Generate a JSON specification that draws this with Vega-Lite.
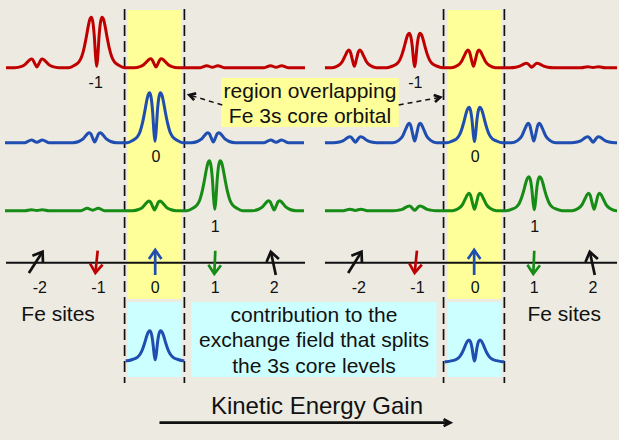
{
"$schema": "https://vega.github.io/schema/vega-lite/v6.json",
"width": 619, "height": 440, "padding": 0,
"autosize": {"type": "fit", "contains": "padding"},
"background": "#ECEAE1",
"config": {"view": {"stroke": null}},
"datasets": {
"bands": [
{"kind":"yellow","x":128,"x2":182,"y":10,"y2":299},
{"kind":"yellow","x":449,"x2":503,"y":10,"y2":299},
{"kind":"cyan","x":128,"x2":182,"y":302,"y2":377},
{"kind":"cyan","x":192,"x2":438,"y":302,"y2":377},
{"kind":"cyan","x":449,"x2":503,"y":302,"y2":377},
{"kind":"yellow","x":222,"x2":400,"y":78,"y2":127}
],
"dashes": [
{"x":125,"y":9,"y2":383},{"x":185,"y":9,"y2":383},{"x":445,"y":9,"y2":383},{"x":506,"y":9,"y2":383}
],
"axes": [
{"x":6,"x2":306,"y":262.7},{"x":326,"x2":619,"y":262.7}
],
"curves": [
{"site":"-1","p":"L","x":6,"y":67.7},
{"site":"-1","p":"L","x":15,"y":67.7},{"site":"-1","p":"L","x":21,"y":66.7},{"site":"-1","p":"L","x":25,"y":64.7},{"site":"-1","p":"L","x":28,"y":61.6},{"site":"-1","p":"L","x":30,"y":59.7},{"site":"-1","p":"L","x":31.5,"y":59.0},{"site":"-1","p":"L","x":33,"y":59.9},{"site":"-1","p":"L","x":35,"y":63.8},{"site":"-1","p":"L","x":37,"y":67.0},{"site":"-1","p":"L","x":39,"y":63.8},{"site":"-1","p":"L","x":41,"y":59.9},{"site":"-1","p":"L","x":42.5,"y":59.0},{"site":"-1","p":"L","x":44,"y":59.7},{"site":"-1","p":"L","x":46,"y":61.6},{"site":"-1","p":"L","x":49,"y":64.7},{"site":"-1","p":"L","x":53,"y":66.7},{"site":"-1","p":"L","x":59,"y":67.7},
{"site":"-1","p":"L","x":69,"y":67.7},{"site":"-1","p":"L","x":75,"y":65.2},{"site":"-1","p":"L","x":79,"y":62.2},{"site":"-1","p":"L","x":82,"y":56.6},{"site":"-1","p":"L","x":84.5,"y":47.5},{"site":"-1","p":"L","x":86.5,"y":37.5},{"site":"-1","p":"L","x":88.5,"y":26.4},{"site":"-1","p":"L","x":90,"y":19.8},{"site":"-1","p":"L","x":91.5,"y":17.3},{"site":"-1","p":"L","x":93,"y":21.3},{"site":"-1","p":"L","x":94.5,"y":34.9},{"site":"-1","p":"L","x":96,"y":57.6},{"site":"-1","p":"L","x":97,"y":66.2},{"site":"-1","p":"L","x":98,"y":57.6},{"site":"-1","p":"L","x":99.5,"y":34.9},{"site":"-1","p":"L","x":101,"y":21.3},{"site":"-1","p":"L","x":102.5,"y":17.3},{"site":"-1","p":"L","x":104,"y":19.8},{"site":"-1","p":"L","x":105.5,"y":26.4},{"site":"-1","p":"L","x":107.5,"y":37.5},{"site":"-1","p":"L","x":109.5,"y":47.5},{"site":"-1","p":"L","x":112,"y":56.6},{"site":"-1","p":"L","x":115,"y":62.2},{"site":"-1","p":"L","x":119,"y":65.2},{"site":"-1","p":"L","x":125,"y":67.7},
{"site":"-1","p":"L","x":134.5,"y":67.7},{"site":"-1","p":"L","x":140.5,"y":66.6},{"site":"-1","p":"L","x":144.5,"y":64.5},{"site":"-1","p":"L","x":147.5,"y":61.4},{"site":"-1","p":"L","x":149.5,"y":59.4},{"site":"-1","p":"L","x":151,"y":58.7},{"site":"-1","p":"L","x":152.5,"y":59.6},{"site":"-1","p":"L","x":154.5,"y":63.6},{"site":"-1","p":"L","x":156.5,"y":67.0},{"site":"-1","p":"L","x":158.5,"y":63.6},{"site":"-1","p":"L","x":160.5,"y":59.6},{"site":"-1","p":"L","x":162,"y":58.7},{"site":"-1","p":"L","x":163.5,"y":59.4},{"site":"-1","p":"L","x":165.5,"y":61.4},{"site":"-1","p":"L","x":168.5,"y":64.5},{"site":"-1","p":"L","x":172.5,"y":66.6},{"site":"-1","p":"L","x":178.5,"y":67.7},
{"site":"-1","p":"L","x":201,"y":67.7},{"site":"-1","p":"L","x":207.5,"y":65.7},{"site":"-1","p":"L","x":213,"y":67.3},{"site":"-1","p":"L","x":218.5,"y":65.7},{"site":"-1","p":"L","x":225,"y":67.7},
{"site":"-1","p":"L","x":265,"y":67.7},{"site":"-1","p":"L","x":271.5,"y":65.7},{"site":"-1","p":"L","x":277,"y":67.3},{"site":"-1","p":"L","x":282.5,"y":65.7},{"site":"-1","p":"L","x":289,"y":67.7},{"site":"-1","p":"L","x":306,"y":67.7},

{"site":"0","p":"L","x":5,"y":142.7},{"site":"0","p":"L","x":25,"y":142.7},{"site":"0","p":"L","x":31.5,"y":140.0},{"site":"0","p":"L","x":37,"y":142.2},{"site":"0","p":"L","x":42.5,"y":140.0},{"site":"0","p":"L","x":49,"y":142.7},
{"site":"0","p":"L","x":73,"y":142.7},{"site":"0","p":"L","x":79,"y":141.5},{"site":"0","p":"L","x":83,"y":139.2},{"site":"0","p":"L","x":86,"y":135.7},{"site":"0","p":"L","x":88,"y":133.5},{"site":"0","p":"L","x":89.5,"y":132.7},{"site":"0","p":"L","x":91,"y":133.7},{"site":"0","p":"L","x":93,"y":138.2},{"site":"0","p":"L","x":95,"y":141.9},{"site":"0","p":"L","x":97,"y":138.2},{"site":"0","p":"L","x":99,"y":133.7},{"site":"0","p":"L","x":100.5,"y":132.7},{"site":"0","p":"L","x":102,"y":133.5},{"site":"0","p":"L","x":104,"y":135.7},{"site":"0","p":"L","x":107,"y":139.2},{"site":"0","p":"L","x":111,"y":141.5},{"site":"0","p":"L","x":117,"y":142.7},
{"site":"0","p":"L","x":127.5,"y":142.7},{"site":"0","p":"L","x":133.5,"y":140.2},{"site":"0","p":"L","x":137.5,"y":137.2},{"site":"0","p":"L","x":140.5,"y":131.7},{"site":"0","p":"L","x":143,"y":122.7},{"site":"0","p":"L","x":145,"y":112.7},{"site":"0","p":"L","x":147,"y":101.7},{"site":"0","p":"L","x":148.5,"y":95.2},{"site":"0","p":"L","x":150,"y":92.7},{"site":"0","p":"L","x":151.5,"y":96.7},{"site":"0","p":"L","x":153,"y":110.2},{"site":"0","p":"L","x":154.5,"y":132.7},{"site":"0","p":"L","x":155.5,"y":141.2},{"site":"0","p":"L","x":156.5,"y":132.7},{"site":"0","p":"L","x":158,"y":110.2},{"site":"0","p":"L","x":159.5,"y":96.7},{"site":"0","p":"L","x":161,"y":92.7},{"site":"0","p":"L","x":162.5,"y":95.2},{"site":"0","p":"L","x":164,"y":101.7},{"site":"0","p":"L","x":166,"y":112.7},{"site":"0","p":"L","x":168,"y":122.7},{"site":"0","p":"L","x":170.5,"y":131.7},{"site":"0","p":"L","x":173.5,"y":137.2},{"site":"0","p":"L","x":177.5,"y":140.2},{"site":"0","p":"L","x":183.5,"y":142.7},
{"site":"0","p":"L","x":192,"y":142.7},{"site":"0","p":"L","x":198,"y":141.5},{"site":"0","p":"L","x":202,"y":139.2},{"site":"0","p":"L","x":205,"y":135.7},{"site":"0","p":"L","x":207,"y":133.5},{"site":"0","p":"L","x":208.5,"y":132.7},{"site":"0","p":"L","x":210,"y":133.7},{"site":"0","p":"L","x":212,"y":138.2},{"site":"0","p":"L","x":214,"y":141.9},{"site":"0","p":"L","x":216,"y":138.2},{"site":"0","p":"L","x":218,"y":133.7},{"site":"0","p":"L","x":219.5,"y":132.7},{"site":"0","p":"L","x":221,"y":133.5},{"site":"0","p":"L","x":223,"y":135.7},{"site":"0","p":"L","x":226,"y":139.2},{"site":"0","p":"L","x":230,"y":141.5},{"site":"0","p":"L","x":236,"y":142.7},
{"site":"0","p":"L","x":265,"y":142.7},{"site":"0","p":"L","x":271.5,"y":140.0},{"site":"0","p":"L","x":277,"y":142.2},{"site":"0","p":"L","x":282.5,"y":140.0},{"site":"0","p":"L","x":289,"y":142.7},{"site":"0","p":"L","x":305,"y":142.7},

{"site":"1","p":"L","x":5,"y":210.7},{"site":"1","p":"L","x":25,"y":210.7},{"site":"1","p":"L","x":31.5,"y":209.7},{"site":"1","p":"L","x":37,"y":210.5},{"site":"1","p":"L","x":42.5,"y":209.7},{"site":"1","p":"L","x":49,"y":210.7},
{"site":"1","p":"L","x":81,"y":210.7},{"site":"1","p":"L","x":87.5,"y":208.3},{"site":"1","p":"L","x":93,"y":210.2},{"site":"1","p":"L","x":98.5,"y":208.3},{"site":"1","p":"L","x":105,"y":210.7},
{"site":"1","p":"L","x":133,"y":210.7},{"site":"1","p":"L","x":139,"y":209.5},{"site":"1","p":"L","x":143,"y":207.3},{"site":"1","p":"L","x":146,"y":203.9},{"site":"1","p":"L","x":148,"y":201.8},{"site":"1","p":"L","x":149.5,"y":201.0},{"site":"1","p":"L","x":151,"y":202.0},{"site":"1","p":"L","x":153,"y":206.3},{"site":"1","p":"L","x":155,"y":209.9},{"site":"1","p":"L","x":157,"y":206.3},{"site":"1","p":"L","x":159,"y":202.0},{"site":"1","p":"L","x":160.5,"y":201.0},{"site":"1","p":"L","x":162,"y":201.8},{"site":"1","p":"L","x":164,"y":203.9},{"site":"1","p":"L","x":167,"y":207.3},{"site":"1","p":"L","x":171,"y":209.5},{"site":"1","p":"L","x":177,"y":210.7},
{"site":"1","p":"L","x":187.5,"y":210.7},{"site":"1","p":"L","x":193.5,"y":208.2},{"site":"1","p":"L","x":197.5,"y":205.2},{"site":"1","p":"L","x":200.5,"y":199.7},{"site":"1","p":"L","x":203,"y":190.7},{"site":"1","p":"L","x":205,"y":180.7},{"site":"1","p":"L","x":207,"y":169.7},{"site":"1","p":"L","x":208.5,"y":163.2},{"site":"1","p":"L","x":210,"y":160.7},{"site":"1","p":"L","x":211.5,"y":164.7},{"site":"1","p":"L","x":213,"y":178.2},{"site":"1","p":"L","x":214.5,"y":200.7},{"site":"1","p":"L","x":215.5,"y":209.2},{"site":"1","p":"L","x":216.5,"y":200.7},{"site":"1","p":"L","x":218,"y":178.2},{"site":"1","p":"L","x":219.5,"y":164.7},{"site":"1","p":"L","x":221,"y":160.7},{"site":"1","p":"L","x":222.5,"y":163.2},{"site":"1","p":"L","x":224,"y":169.7},{"site":"1","p":"L","x":226,"y":180.7},{"site":"1","p":"L","x":228,"y":190.7},{"site":"1","p":"L","x":230.5,"y":199.7},{"site":"1","p":"L","x":233.5,"y":205.2},{"site":"1","p":"L","x":237.5,"y":208.2},{"site":"1","p":"L","x":243.5,"y":210.7},
{"site":"1","p":"L","x":253,"y":210.7},{"site":"1","p":"L","x":259,"y":209.5},{"site":"1","p":"L","x":263,"y":207.2},{"site":"1","p":"L","x":266,"y":203.7},{"site":"1","p":"L","x":268,"y":201.5},{"site":"1","p":"L","x":269.5,"y":200.7},{"site":"1","p":"L","x":271,"y":201.7},{"site":"1","p":"L","x":273,"y":206.2},{"site":"1","p":"L","x":275,"y":209.9},{"site":"1","p":"L","x":277,"y":206.2},{"site":"1","p":"L","x":279,"y":201.7},{"site":"1","p":"L","x":280.5,"y":200.7},{"site":"1","p":"L","x":282,"y":201.5},{"site":"1","p":"L","x":284,"y":203.7},{"site":"1","p":"L","x":287,"y":207.2},{"site":"1","p":"L","x":291,"y":209.5},{"site":"1","p":"L","x":297,"y":210.7},{"site":"1","p":"L","x":305,"y":210.7},

{"site":"-1","p":"R","x":326,"y":67.7},
{"site":"-1","p":"R","x":333.5,"y":67.7},{"site":"-1","p":"R","x":339.5,"y":65.6},{"site":"-1","p":"R","x":343.5,"y":61.5},{"site":"-1","p":"R","x":346.5,"y":55.3},{"site":"-1","p":"R","x":348.5,"y":51.4},{"site":"-1","p":"R","x":350,"y":50.0},{"site":"-1","p":"R","x":351.5,"y":51.8},{"site":"-1","p":"R","x":353.5,"y":59.7},{"site":"-1","p":"R","x":355.5,"y":66.3},{"site":"-1","p":"R","x":357.5,"y":59.7},{"site":"-1","p":"R","x":359.5,"y":51.8},{"site":"-1","p":"R","x":361,"y":50.0},{"site":"-1","p":"R","x":362.5,"y":51.4},{"site":"-1","p":"R","x":364.5,"y":55.3},{"site":"-1","p":"R","x":367.5,"y":61.5},{"site":"-1","p":"R","x":371.5,"y":65.6},{"site":"-1","p":"R","x":377.5,"y":67.7},
{"site":"-1","p":"R","x":388,"y":67.7},{"site":"-1","p":"R","x":394,"y":66.0},{"site":"-1","p":"R","x":398,"y":63.9},{"site":"-1","p":"R","x":401,"y":60.1},{"site":"-1","p":"R","x":403.5,"y":53.9},{"site":"-1","p":"R","x":405.5,"y":47.1},{"site":"-1","p":"R","x":407.5,"y":39.5},{"site":"-1","p":"R","x":409,"y":35.0},{"site":"-1","p":"R","x":410.5,"y":33.3},{"site":"-1","p":"R","x":412,"y":36.1},{"site":"-1","p":"R","x":413.5,"y":45.3},{"site":"-1","p":"R","x":415,"y":60.8},{"site":"-1","p":"R","x":416,"y":66.7},{"site":"-1","p":"R","x":417,"y":60.8},{"site":"-1","p":"R","x":418.5,"y":45.3},{"site":"-1","p":"R","x":420,"y":36.1},{"site":"-1","p":"R","x":421.5,"y":33.3},{"site":"-1","p":"R","x":423,"y":35.0},{"site":"-1","p":"R","x":424.5,"y":39.5},{"site":"-1","p":"R","x":426.5,"y":47.1},{"site":"-1","p":"R","x":428.5,"y":53.9},{"site":"-1","p":"R","x":431,"y":60.1},{"site":"-1","p":"R","x":434,"y":63.9},{"site":"-1","p":"R","x":438,"y":66.0},{"site":"-1","p":"R","x":444,"y":67.7},
{"site":"-1","p":"R","x":453,"y":67.7},{"site":"-1","p":"R","x":459,"y":65.6},{"site":"-1","p":"R","x":463,"y":61.5},{"site":"-1","p":"R","x":466,"y":55.3},{"site":"-1","p":"R","x":468,"y":51.4},{"site":"-1","p":"R","x":469.5,"y":50.0},{"site":"-1","p":"R","x":471,"y":51.8},{"site":"-1","p":"R","x":473,"y":59.7},{"site":"-1","p":"R","x":475,"y":66.3},{"site":"-1","p":"R","x":477,"y":59.7},{"site":"-1","p":"R","x":479,"y":51.8},{"site":"-1","p":"R","x":480.5,"y":50.0},{"site":"-1","p":"R","x":482,"y":51.4},{"site":"-1","p":"R","x":484,"y":55.3},{"site":"-1","p":"R","x":487,"y":61.5},{"site":"-1","p":"R","x":491,"y":65.6},{"site":"-1","p":"R","x":497,"y":67.7},
{"site":"-1","p":"R","x":511.5,"y":67.7},{"site":"-1","p":"R","x":517.5,"y":67.2},{"site":"-1","p":"R","x":521.5,"y":66.2},{"site":"-1","p":"R","x":524.5,"y":64.6},{"site":"-1","p":"R","x":526.5,"y":63.7},{"site":"-1","p":"R","x":528,"y":63.3},{"site":"-1","p":"R","x":529.5,"y":63.7},{"site":"-1","p":"R","x":531.5,"y":65.7},{"site":"-1","p":"R","x":533.5,"y":67.3},{"site":"-1","p":"R","x":535.5,"y":65.7},{"site":"-1","p":"R","x":537.5,"y":63.7},{"site":"-1","p":"R","x":539,"y":63.3},{"site":"-1","p":"R","x":540.5,"y":63.7},{"site":"-1","p":"R","x":542.5,"y":64.6},{"site":"-1","p":"R","x":545.5,"y":66.2},{"site":"-1","p":"R","x":549.5,"y":67.2},{"site":"-1","p":"R","x":555.5,"y":67.7},
{"site":"-1","p":"R","x":583,"y":67.7},{"site":"-1","p":"R","x":589.5,"y":66.7},{"site":"-1","p":"R","x":595,"y":67.5},{"site":"-1","p":"R","x":600.5,"y":66.7},{"site":"-1","p":"R","x":607,"y":67.7},{"site":"-1","p":"R","x":619,"y":67.7},

{"site":"0","p":"R","x":326,"y":142.7},
{"site":"0","p":"R","x":334.5,"y":142.7},{"site":"0","p":"R","x":340.5,"y":142.0},{"site":"0","p":"R","x":344.5,"y":140.6},{"site":"0","p":"R","x":347.5,"y":138.5},{"site":"0","p":"R","x":349.5,"y":137.2},{"site":"0","p":"R","x":351,"y":136.7},{"site":"0","p":"R","x":352.5,"y":137.3},{"site":"0","p":"R","x":354.5,"y":140.0},{"site":"0","p":"R","x":356.5,"y":142.2},{"site":"0","p":"R","x":358.5,"y":140.0},{"site":"0","p":"R","x":360.5,"y":137.3},{"site":"0","p":"R","x":362,"y":136.7},{"site":"0","p":"R","x":363.5,"y":137.2},{"site":"0","p":"R","x":365.5,"y":138.5},{"site":"0","p":"R","x":368.5,"y":140.6},{"site":"0","p":"R","x":372.5,"y":142.0},{"site":"0","p":"R","x":378.5,"y":142.7},
{"site":"0","p":"R","x":394,"y":142.7},{"site":"0","p":"R","x":400,"y":140.4},{"site":"0","p":"R","x":404,"y":135.9},{"site":"0","p":"R","x":407,"y":129.1},{"site":"0","p":"R","x":409,"y":124.9},{"site":"0","p":"R","x":410.5,"y":123.3},{"site":"0","p":"R","x":412,"y":125.2},{"site":"0","p":"R","x":414,"y":134.0},{"site":"0","p":"R","x":416,"y":141.1},{"site":"0","p":"R","x":418,"y":134.0},{"site":"0","p":"R","x":420,"y":125.2},{"site":"0","p":"R","x":421.5,"y":123.3},{"site":"0","p":"R","x":423,"y":124.9},{"site":"0","p":"R","x":425,"y":129.1},{"site":"0","p":"R","x":428,"y":135.9},{"site":"0","p":"R","x":432,"y":140.4},{"site":"0","p":"R","x":438,"y":142.7},
{"site":"0","p":"R","x":448,"y":142.7},{"site":"0","p":"R","x":454,"y":140.9},{"site":"0","p":"R","x":458,"y":138.8},{"site":"0","p":"R","x":461,"y":134.9},{"site":"0","p":"R","x":463.5,"y":128.5},{"site":"0","p":"R","x":465.5,"y":121.5},{"site":"0","p":"R","x":467.5,"y":113.7},{"site":"0","p":"R","x":469,"y":109.1},{"site":"0","p":"R","x":470.5,"y":107.3},{"site":"0","p":"R","x":472,"y":110.1},{"site":"0","p":"R","x":473.5,"y":119.7},{"site":"0","p":"R","x":475,"y":135.6},{"site":"0","p":"R","x":476,"y":141.6},{"site":"0","p":"R","x":477,"y":135.6},{"site":"0","p":"R","x":478.5,"y":119.7},{"site":"0","p":"R","x":480,"y":110.1},{"site":"0","p":"R","x":481.5,"y":107.3},{"site":"0","p":"R","x":483,"y":109.1},{"site":"0","p":"R","x":484.5,"y":113.7},{"site":"0","p":"R","x":486.5,"y":121.5},{"site":"0","p":"R","x":488.5,"y":128.5},{"site":"0","p":"R","x":491,"y":134.9},{"site":"0","p":"R","x":494,"y":138.8},{"site":"0","p":"R","x":498,"y":140.9},{"site":"0","p":"R","x":504,"y":142.7},
{"site":"0","p":"R","x":513.5,"y":142.7},{"site":"0","p":"R","x":519.5,"y":140.4},{"site":"0","p":"R","x":523.5,"y":135.9},{"site":"0","p":"R","x":526.5,"y":129.1},{"site":"0","p":"R","x":528.5,"y":124.9},{"site":"0","p":"R","x":530,"y":123.3},{"site":"0","p":"R","x":531.5,"y":125.2},{"site":"0","p":"R","x":533.5,"y":134.0},{"site":"0","p":"R","x":535.5,"y":141.1},{"site":"0","p":"R","x":537.5,"y":134.0},{"site":"0","p":"R","x":539.5,"y":125.2},{"site":"0","p":"R","x":541,"y":123.3},{"site":"0","p":"R","x":542.5,"y":124.9},{"site":"0","p":"R","x":544.5,"y":129.1},{"site":"0","p":"R","x":547.5,"y":135.9},{"site":"0","p":"R","x":551.5,"y":140.4},{"site":"0","p":"R","x":557.5,"y":142.7},
{"site":"0","p":"R","x":573,"y":142.7},{"site":"0","p":"R","x":579,"y":142.0},{"site":"0","p":"R","x":583,"y":140.6},{"site":"0","p":"R","x":586,"y":138.5},{"site":"0","p":"R","x":588,"y":137.2},{"site":"0","p":"R","x":589.5,"y":136.7},{"site":"0","p":"R","x":591,"y":137.3},{"site":"0","p":"R","x":593,"y":140.0},{"site":"0","p":"R","x":595,"y":142.2},{"site":"0","p":"R","x":597,"y":140.0},{"site":"0","p":"R","x":599,"y":137.3},{"site":"0","p":"R","x":600.5,"y":136.7},{"site":"0","p":"R","x":602,"y":137.2},{"site":"0","p":"R","x":604,"y":138.5},{"site":"0","p":"R","x":607,"y":140.6},{"site":"0","p":"R","x":611,"y":142.0},{"site":"0","p":"R","x":617,"y":142.7},{"site":"0","p":"R","x":619,"y":142.7},

{"site":"1","p":"R","x":326,"y":210.7},{"site":"1","p":"R","x":344.5,"y":210.7},{"site":"1","p":"R","x":351,"y":209.2},{"site":"1","p":"R","x":356.5,"y":210.4},{"site":"1","p":"R","x":362,"y":209.2},{"site":"1","p":"R","x":368.5,"y":210.7},
{"site":"1","p":"R","x":394,"y":210.7},{"site":"1","p":"R","x":400,"y":210.1},{"site":"1","p":"R","x":404,"y":209.1},{"site":"1","p":"R","x":407,"y":207.4},{"site":"1","p":"R","x":409,"y":206.4},{"site":"1","p":"R","x":410.5,"y":206.0},{"site":"1","p":"R","x":412,"y":206.5},{"site":"1","p":"R","x":414,"y":208.6},{"site":"1","p":"R","x":416,"y":210.3},{"site":"1","p":"R","x":418,"y":208.6},{"site":"1","p":"R","x":420,"y":206.5},{"site":"1","p":"R","x":421.5,"y":206.0},{"site":"1","p":"R","x":423,"y":206.4},{"site":"1","p":"R","x":425,"y":207.4},{"site":"1","p":"R","x":428,"y":209.1},{"site":"1","p":"R","x":432,"y":210.1},{"site":"1","p":"R","x":438,"y":210.7},
{"site":"1","p":"R","x":454,"y":210.7},{"site":"1","p":"R","x":460,"y":208.6},{"site":"1","p":"R","x":464,"y":204.6},{"site":"1","p":"R","x":467,"y":198.5},{"site":"1","p":"R","x":469,"y":194.7},{"site":"1","p":"R","x":470.5,"y":193.3},{"site":"1","p":"R","x":472,"y":195.0},{"site":"1","p":"R","x":474,"y":202.9},{"site":"1","p":"R","x":476,"y":209.3},{"site":"1","p":"R","x":478,"y":202.9},{"site":"1","p":"R","x":480,"y":195.0},{"site":"1","p":"R","x":481.5,"y":193.3},{"site":"1","p":"R","x":483,"y":194.7},{"site":"1","p":"R","x":485,"y":198.5},{"site":"1","p":"R","x":488,"y":204.6},{"site":"1","p":"R","x":492,"y":208.6},{"site":"1","p":"R","x":498,"y":210.7},
{"site":"1","p":"R","x":508,"y":210.7},{"site":"1","p":"R","x":514,"y":209.0},{"site":"1","p":"R","x":518,"y":207.0},{"site":"1","p":"R","x":521,"y":203.2},{"site":"1","p":"R","x":523.5,"y":197.1},{"site":"1","p":"R","x":525.5,"y":190.3},{"site":"1","p":"R","x":527.5,"y":182.8},{"site":"1","p":"R","x":529,"y":178.4},{"site":"1","p":"R","x":530.5,"y":176.7},{"site":"1","p":"R","x":532,"y":179.4},{"site":"1","p":"R","x":533.5,"y":188.6},{"site":"1","p":"R","x":535,"y":203.9},{"site":"1","p":"R","x":536,"y":209.7},{"site":"1","p":"R","x":537,"y":203.9},{"site":"1","p":"R","x":538.5,"y":188.6},{"site":"1","p":"R","x":540,"y":179.4},{"site":"1","p":"R","x":541.5,"y":176.7},{"site":"1","p":"R","x":543,"y":178.4},{"site":"1","p":"R","x":544.5,"y":182.8},{"site":"1","p":"R","x":546.5,"y":190.3},{"site":"1","p":"R","x":548.5,"y":197.1},{"site":"1","p":"R","x":551,"y":203.2},{"site":"1","p":"R","x":554,"y":207.0},{"site":"1","p":"R","x":558,"y":209.0},{"site":"1","p":"R","x":564,"y":210.7},
{"site":"1","p":"R","x":574,"y":210.7},{"site":"1","p":"R","x":580,"y":208.6},{"site":"1","p":"R","x":584,"y":204.6},{"site":"1","p":"R","x":587,"y":198.5},{"site":"1","p":"R","x":589,"y":194.7},{"site":"1","p":"R","x":590.5,"y":193.3},{"site":"1","p":"R","x":592,"y":195.0},{"site":"1","p":"R","x":594,"y":202.9},{"site":"1","p":"R","x":596,"y":209.3},{"site":"1","p":"R","x":598,"y":202.9},{"site":"1","p":"R","x":600,"y":195.0},{"site":"1","p":"R","x":601.5,"y":193.3},{"site":"1","p":"R","x":603,"y":194.7},{"site":"1","p":"R","x":605,"y":198.5},{"site":"1","p":"R","x":608,"y":204.6},{"site":"1","p":"R","x":612,"y":208.6},{"site":"1","p":"R","x":618,"y":210.7},{"site":"1","p":"R","x":619,"y":210.7},

{"site":"0","p":"cL","x":126,"y":360.7},{"site":"0","p":"cL","x":127.7,"y":360.7},{"site":"0","p":"cL","x":133.7,"y":359.2},{"site":"0","p":"cL","x":137.7,"y":357.4},{"site":"0","p":"cL","x":140.7,"y":354.1},{"site":"0","p":"cL","x":143.2,"y":348.7},{"site":"0","p":"cL","x":145.2,"y":342.7},{"site":"0","p":"cL","x":147.2,"y":336.1},{"site":"0","p":"cL","x":148.7,"y":332.2},{"site":"0","p":"cL","x":150.2,"y":330.7},{"site":"0","p":"cL","x":151.7,"y":333.1},{"site":"0","p":"cL","x":153.2,"y":341.2},{"site":"0","p":"cL","x":154.7,"y":354.7},{"site":"0","p":"cL","x":155.7,"y":359.8},{"site":"0","p":"cL","x":156.7,"y":354.7},{"site":"0","p":"cL","x":158.2,"y":341.2},{"site":"0","p":"cL","x":159.7,"y":333.1},{"site":"0","p":"cL","x":161.2,"y":330.7},{"site":"0","p":"cL","x":162.7,"y":332.2},{"site":"0","p":"cL","x":164.2,"y":336.1},{"site":"0","p":"cL","x":166.2,"y":342.7},{"site":"0","p":"cL","x":168.2,"y":348.7},{"site":"0","p":"cL","x":170.7,"y":354.1},{"site":"0","p":"cL","x":173.7,"y":357.4},{"site":"0","p":"cL","x":177.7,"y":359.2},{"site":"0","p":"cL","x":183.7,"y":360.7},{"site":"0","p":"cL","x":185,"y":360.7},

{"site":"0","p":"cR","x":446,"y":361.7},{"site":"0","p":"cR","x":448,"y":361.7},{"site":"0","p":"cR","x":454,"y":360.6},{"site":"0","p":"cR","x":458,"y":359.3},{"site":"0","p":"cR","x":461,"y":356.9},{"site":"0","p":"cR","x":463.5,"y":353.0},{"site":"0","p":"cR","x":465.5,"y":348.7},{"site":"0","p":"cR","x":467.5,"y":343.9},{"site":"0","p":"cR","x":469,"y":341.1},{"site":"0","p":"cR","x":470.5,"y":340.0},{"site":"0","p":"cR","x":472,"y":341.7},{"site":"0","p":"cR","x":473.5,"y":347.6},{"site":"0","p":"cR","x":475,"y":357.4},{"site":"0","p":"cR","x":476,"y":361.0},{"site":"0","p":"cR","x":477,"y":357.4},{"site":"0","p":"cR","x":478.5,"y":347.6},{"site":"0","p":"cR","x":480,"y":341.7},{"site":"0","p":"cR","x":481.5,"y":340.0},{"site":"0","p":"cR","x":483,"y":341.1},{"site":"0","p":"cR","x":484.5,"y":343.9},{"site":"0","p":"cR","x":486.5,"y":348.7},{"site":"0","p":"cR","x":488.5,"y":353.0},{"site":"0","p":"cR","x":491,"y":356.9},{"site":"0","p":"cR","x":494,"y":359.3},{"site":"0","p":"cR","x":498,"y":360.6},{"site":"0","p":"cR","x":504,"y":361.7},{"site":"0","p":"cR","x":506,"y":361.7}
],
"arrows": [
{"id":"L-2s","site":"-2","o":1,"x":29,"y":273},{"id":"L-2s","site":"-2","o":2,"x":42.7,"y":251.7},
{"id":"L-2h","site":"-2","o":1,"x":32.5,"y":255.8},{"id":"L-2h","site":"-2","o":2,"x":42.7,"y":251.7},{"id":"L-2h","site":"-2","o":3,"x":43.1,"y":262.7},
{"id":"L-1s","site":"-1","o":1,"x":98,"y":250.7},{"id":"L-1s","site":"-1","o":2,"x":95.7,"y":273},
{"id":"L-1h","site":"-1","o":1,"x":102.9,"y":264.7},{"id":"L-1h","site":"-1","o":2,"x":95.7,"y":273},{"id":"L-1h","site":"-1","o":3,"x":90.3,"y":263.4},
{"id":"L0s","site":"0","o":1,"x":155.7,"y":275},{"id":"L0s","site":"0","o":2,"x":155.7,"y":250},
{"id":"L0h","site":"0","o":1,"x":149.4,"y":259.1},{"id":"L0h","site":"0","o":2,"x":155.7,"y":250},{"id":"L0h","site":"0","o":3,"x":162.0,"y":259.1},
{"id":"L1s","site":"1","o":1,"x":216,"y":250.7},{"id":"L1s","site":"1","o":2,"x":215,"y":274},
{"id":"L1h","site":"1","o":1,"x":221.7,"y":265.3},{"id":"L1h","site":"1","o":2,"x":215,"y":274},{"id":"L1h","site":"1","o":3,"x":209.1,"y":264.8},
{"id":"L2s","site":"2","o":1,"x":276.7,"y":275},{"id":"L2s","site":"2","o":2,"x":271.7,"y":251.7},
{"id":"L2h","site":"2","o":1,"x":267.4,"y":261.9},{"id":"L2h","site":"2","o":2,"x":271.7,"y":251.7},{"id":"L2h","site":"2","o":3,"x":279.8,"y":259.1},
{"id":"R-2s","site":"-2","o":1,"x":349.3,"y":273},{"id":"R-2s","site":"-2","o":2,"x":362.7,"y":251.7},
{"id":"R-2h","site":"-2","o":1,"x":352.5,"y":255.8},{"id":"R-2h","site":"-2","o":2,"x":362.7,"y":251.7},{"id":"R-2h","site":"-2","o":3,"x":363.1,"y":262.7},
{"id":"R-1s","site":"-1","o":1,"x":418.3,"y":250.7},{"id":"R-1s","site":"-1","o":2,"x":416,"y":273},
{"id":"R-1h","site":"-1","o":1,"x":423.2,"y":264.7},{"id":"R-1h","site":"-1","o":2,"x":416,"y":273},{"id":"R-1h","site":"-1","o":3,"x":410.6,"y":263.4},
{"id":"R0s","site":"0","o":1,"x":475.7,"y":275},{"id":"R0s","site":"0","o":2,"x":475.7,"y":250},
{"id":"R0h","site":"0","o":1,"x":469.4,"y":259.1},{"id":"R0h","site":"0","o":2,"x":475.7,"y":250},{"id":"R0h","site":"0","o":3,"x":482.0,"y":259.1},
{"id":"R1s","site":"1","o":1,"x":536,"y":250.7},{"id":"R1s","site":"1","o":2,"x":535,"y":274},
{"id":"R1h","site":"1","o":1,"x":541.7,"y":265.3},{"id":"R1h","site":"1","o":2,"x":535,"y":274},{"id":"R1h","site":"1","o":3,"x":529.1,"y":264.8},
{"id":"R2s","site":"2","o":1,"x":596.7,"y":275},{"id":"R2s","site":"2","o":2,"x":591.7,"y":251.7},
{"id":"R2h","site":"2","o":1,"x":587.4,"y":261.9},{"id":"R2h","site":"2","o":2,"x":591.7,"y":251.7},{"id":"R2h","site":"2","o":3,"x":599.8,"y":259.1},
{"id":"KEs","site":"none","o":1,"x":160,"y":422.7},{"id":"KEs","site":"none","o":2,"x":451.7,"y":422.7},
{"id":"KEh","site":"none","o":1,"x":445,"y":419.3},{"id":"KEh","site":"none","o":2,"x":451.7,"y":422.7},{"id":"KEh","site":"none","o":3,"x":445,"y":426.1},
{"id":"PLh","site":"none","o":1,"x":194.8,"y":100.1},{"id":"PLh","site":"none","o":2,"x":190,"y":95},{"id":"PLh","site":"none","o":3,"x":196.8,"y":93.4},
{"id":"PRh","site":"none","o":1,"x":435.1,"y":95.0},{"id":"PRh","site":"none","o":2,"x":441.7,"y":97.3},{"id":"PRh","site":"none","o":3,"x":436.4,"y":101.9}
],
"pointers": [
{"id":"PL","o":1,"x":223,"y":105},{"id":"PL","o":2,"x":190,"y":95},
{"id":"PR","o":1,"x":400,"y":105},{"id":"PR","o":2,"x":441.7,"y":97.3}
],
"labels": [
{"k":"num","t":"-1","x":96,"y":88},
{"k":"num","t":"-1","x":416.7,"y":88},
{"k":"num","t":"0","x":156.5,"y":162.3},
{"k":"num","t":"0","x":476.7,"y":162.3},
{"k":"num","t":"1","x":216,"y":232},
{"k":"num","t":"1","x":536.5,"y":232},
{"k":"num","t":"-2","x":40,"y":292.7},
{"k":"num","t":"-1","x":98.8,"y":292.7},
{"k":"num","t":"0","x":155.7,"y":292.7},
{"k":"num","t":"1","x":216,"y":292.7},
{"k":"num","t":"2","x":275,"y":292.7},
{"k":"num","t":"-2","x":360,"y":292.7},
{"k":"num","t":"-1","x":418.8,"y":292.7},
{"k":"num","t":"0","x":476.7,"y":292.7},
{"k":"num","t":"1","x":536,"y":292.7},
{"k":"num","t":"2","x":595,"y":292.7},
{"k":"mid","t":"Fe sites","x":58.3,"y":320.7},
{"k":"mid","t":"Fe sites","x":566,"y":320.7},
{"k":"mid","t":"contribution to the","x":315,"y":321.7},
{"k":"mid","t":"exchange field that splits","x":315,"y":347},
{"k":"mid","t":"the 3s core levels","x":315,"y":372.5},
{"k":"mid","t":"region overlapping","x":311,"y":97.5},
{"k":"mid","t":"Fe 3s core orbital","x":311,"y":123},
{"k":"big","t":"Kinetic Energy Gain","x":318,"y":414.3}
]
},
"encoding": {
"x": {"field": "x", "type": "quantitative", "scale": {"domain": [0, 619], "nice": false, "zero": false}, "axis": null},
"y": {"field": "y", "type": "quantitative", "scale": {"domain": [0, 440], "reverse": true, "nice": false, "zero": false}, "axis": null}
},
"layer": [
{"data": {"name": "bands"}, "transform": [{"filter": "datum.kind === 'yellow'"}], "mark": {"type": "rect", "color": "#FFFF99"}, "encoding": {"x2": {"field": "x2"}, "y2": {"field": "y2"}}},
{"data": {"name": "bands"}, "transform": [{"filter": "datum.kind === 'cyan'"}], "mark": {"type": "rect", "color": "#CCFFFF"}, "encoding": {"x2": {"field": "x2"}, "y2": {"field": "y2"}}},
{"data": {"name": "dashes"}, "mark": {"type": "rule", "color": "#111111", "strokeWidth": 1.7, "strokeDash": [11, 5]}, "encoding": {"y2": {"field": "y2"}}},
{"data": {"name": "axes"}, "mark": {"type": "rule", "color": "#111111", "strokeWidth": 2}, "encoding": {"x2": {"field": "x2"}}},
{"data": {"name": "curves"}, "mark": {"type": "line", "interpolate": "monotone", "strokeWidth": 3, "strokeJoin": "round"},
 "encoding": {"detail": {"field": "p"}, "color": {"field": "site", "type": "nominal", "scale": {"domain": ["-2", "-1", "0", "1", "2", "none"], "range": ["#111111", "#C00000", "#1F4DB0", "#168C16", "#111111", "#111111"]}, "legend": null}}},
{"data": {"name": "arrows"}, "mark": {"type": "line", "strokeWidth": 2.7, "strokeJoin": "miter"},
 "encoding": {"detail": {"field": "id"}, "order": {"field": "o", "type": "quantitative"}, "color": {"field": "site", "type": "nominal", "scale": {"domain": ["-2", "-1", "0", "1", "2", "none"], "range": ["#111111", "#C00000", "#1F4DB0", "#168C16", "#111111", "#111111"]}, "legend": null}}},
{"data": {"name": "pointers"}, "mark": {"type": "line", "strokeWidth": 1.5, "color": "#111111", "strokeDash": [5, 4]},
 "encoding": {"detail": {"field": "id"}, "order": {"field": "o", "type": "quantitative"}}},
{"data": {"name": "labels"}, "transform": [{"filter": "datum.k === 'num'"}], "mark": {"type": "text", "font": "Liberation Sans", "fontSize": 16, "align": "center", "baseline": "alphabetic", "color": "#111111"}, "encoding": {"text": {"field": "t"}}},
{"data": {"name": "labels"}, "transform": [{"filter": "datum.k === 'mid'"}], "mark": {"type": "text", "font": "Liberation Sans", "fontSize": 21, "align": "center", "baseline": "alphabetic", "color": "#111111"}, "encoding": {"text": {"field": "t"}}},
{"data": {"name": "labels"}, "transform": [{"filter": "datum.k === 'big'"}], "mark": {"type": "text", "font": "Liberation Sans", "fontSize": 24, "align": "center", "baseline": "alphabetic", "color": "#111111"}, "encoding": {"text": {"field": "t"}}}
]
}
